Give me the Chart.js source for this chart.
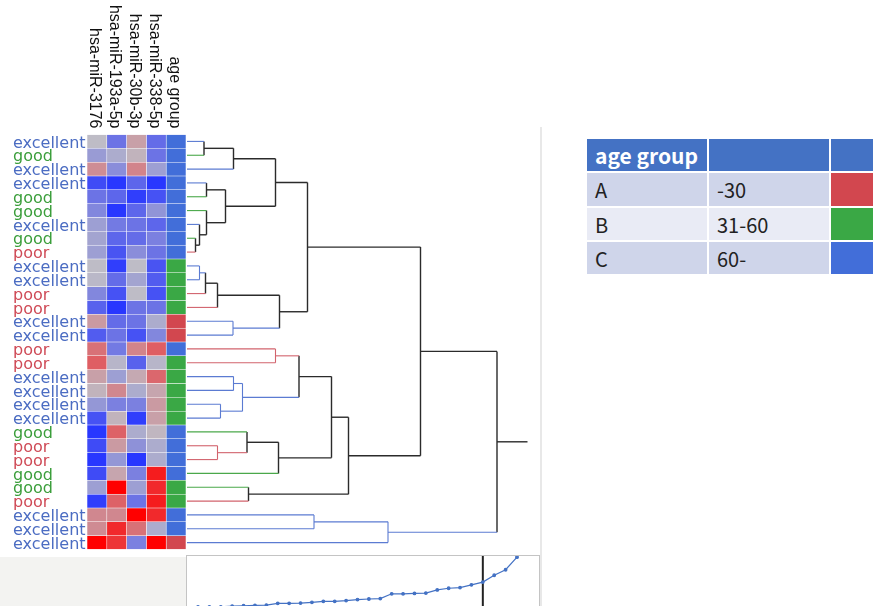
<!DOCTYPE html>
<html><head><meta charset="utf-8">
<script src="https://cdn.jsdelivr.net/npm/chart.js@4.4.0/dist/chart.umd.min.js"></script>
<style>
html,body{margin:0;padding:0;width:873px;height:606px;overflow:hidden;background:#fff;position:relative}
canvas{position:absolute;display:block}
#grayL{position:absolute;left:0;top:557px;width:187px;height:60px;background:#f3f3f1}
#panelLine{position:absolute;left:540px;top:127px;width:1.5px;height:490px;background:#e8e8e8}
#box{position:absolute;left:186px;top:555px;width:352px;height:80px;border:1.5px solid #c4c4c4;background:#fff;overflow:hidden}
#legend{position:absolute;left:585px;top:137px;width:408px;table-layout:fixed;border-collapse:separate;border-spacing:2px;font-family:"Noto Sans CJK JP","Noto Sans",sans-serif;font-size:20px;color:#222}
#legend td,#legend th{padding:0 0 0 8px;box-sizing:border-box;text-align:left;white-space:nowrap;overflow:hidden}
#legend th{background:#4472c4;color:#fff;font-weight:bold;font-size:21px;height:32px}
</style></head>
<body>
<div id="grayL"></div>
<div id="panelLine"></div>
<canvas id="heat" width="188" height="570" style="left:0;top:0"></canvas>
<canvas id="dendro" width="352" height="551" style="left:187px;top:0"></canvas>
<div id="box"><canvas id="cut" width="352" height="52" style="left:0;top:0"></canvas></div>
<table id="legend"><colgroup><col style="width:120px"><col style="width:120px"><col style="width:160px"></colgroup><tbody id="legendBody"></tbody></table>
<script>
// ---- data ----
const rowLabels = ["excellent","good","excellent","excellent","good","good","excellent","good","poor",
  "excellent","excellent","poor","poor","excellent","excellent","poor","poor","excellent","excellent",
  "excellent","excellent","good","poor","poor","good","good","poor","excellent","excellent","excellent"];
const columnNames = ["hsa-miR-3176","hsa-miR-193a-5p","hsa-miR-30b-3p","hsa-miR-338-5p","age group"];
const miR3176  = [0.0,-0.25,0.25,-0.85,-0.55,-0.4,-0.22,-0.18,-0.22,0.0,-0.03,-0.4,-0.68,0.18,-0.72,
                  0.4,0.5,0.15,0.05,-0.28,-0.8,-1.0,-0.85,-1.0,-0.85,-0.22,-0.95,0.28,0.26,1.0];
const miR193a  = [-0.55,-0.12,-0.35,-1.0,-0.65,-1.0,-0.5,-0.65,-0.78,-0.95,-0.6,-0.8,-1.0,-0.6,-0.55,
                  -0.5,-0.05,-0.22,0.28,-0.45,0.05,0.48,0.18,-0.28,0.12,1.0,0.48,0.28,0.78,0.72];
const miR30b   = [0.15,0.05,0.3,-0.65,-0.95,-0.65,-0.55,-0.6,-0.35,0.0,-0.18,0.0,-0.55,-0.55,-0.8,
                  0.3,-0.68,0.1,-0.12,-0.45,-0.95,-0.12,-0.32,-1.0,-0.45,-0.22,-0.55,1.0,0.4,-0.45];
const miR338   = [-0.6,-0.55,-0.22,-1.0,-0.8,-0.3,-0.65,-0.45,-0.55,-0.78,-0.72,-0.8,-0.55,-0.12,-0.4,
                  0.5,-0.05,0.45,0.12,0.18,0.15,0.03,-0.12,-0.12,0.85,0.78,0.85,0.78,-0.12,1.0];
const ageGroup = ["C","C","C","C","C","C","C","C","C","B","B","B","B","A","A",
                  "C","B","B","B","B","B","C","C","C","C","B","B","C","C","A"];
const ageLabels = ["A","B","C"];
const ageRanges = ["-30","31-60","60-"];
// dendrogram merges: node id = 30 + index
const mergeLeft   = [7, 6, 5, 3, 33, 0, 35, 36, 9, 38, 39, 13, 40, 37, 15, 17, 19, 45, 44, 22, 21, 50, 48, 25, 52, 43, 27, 56, 55];
const mergeRight  = [8, 30, 31, 4, 32, 1, 2, 34, 10, 11, 12, 14, 41, 42, 16, 18, 20, 46, 47, 23, 49, 24, 51, 26, 53, 54, 28, 29, 57];
const mergeHeight = [0.17,0.25,0.39,0.39,0.77,0.34,0.93,1.77,0.25,0.37,0.61,0.92,1.85,2.41,1.77,0.93,0.67,1.11,2.24,0.61,1.20,1.83,2.89,1.23,3.23,4.67,2.54,4.02,6.20];
const rootStubEnd = 6.81;
// sorted merge heights (small plot below)
const sortedHeights = [0.15,0.15,0.15,0.23,0.28,0.32,0.35,0.57,0.57,0.61,0.70,0.82,0.82,0.91,1.04,1.11,1.16,1.75,1.75,1.80,1.84,2.22,2.43,2.51,2.85,3.19,4.03,4.71,6.25];
const cutIndex = 25;

// ---- styles ----
const classColor = {excellent:"#4b6cc2", good:"#3b9e3b", poor:"#cf4b57"};
const linkColor  = {excellent:"#5b7bd2", good:"#4aa84a", poor:"#d2636d"};
const ageColor   = {A:"#d2474f", B:"#3aa845", C:"#426ed9"};
function heatColor(v){
  const g=[190,188,198], e = v<0 ? [40,55,255] : [255,0,0], t=Math.min(1,Math.abs(v));
  return "rgb("+g.map((c,i)=>Math.round(c+(e[i]-c)*t)).join(",")+")";
}
Chart.defaults.animation = false;
Chart.defaults.layout.autoPadding = false;

// ---- heatmap ----
const geneSeries = [miR3176, miR193a, miR30b, miR338];
const heatDatasets = geneSeries.map((vals,c)=>({
  data: vals.map(()=>[c,c+1]),
  backgroundColor: vals.map(heatColor),
  borderColor: "rgba(255,255,255,0.22)", borderWidth: 0.6, borderSkipped: false,
  categoryPercentage: 1, barPercentage: 1
}));
heatDatasets.push({
  data: ageGroup.map(()=>[4,5]),
  backgroundColor: ageGroup.map(a=>ageColor[a]),
  borderColor: "rgba(255,255,255,0.22)", borderWidth: 0.6, borderSkipped: false,
  categoryPercentage: 1, barPercentage: 1
});
const headerPlugin = {
  id: "headers",
  afterDraw(chart){
    const ctx = chart.ctx, xs = chart.scales.x, top = chart.chartArea.top;
    ctx.save();
    ctx.font = '16px "Liberation Sans", Arial, sans-serif';
    ctx.fillStyle = "#111"; ctx.textAlign = "right"; ctx.textBaseline = "middle";
    columnNames.forEach((n,i)=>{
      ctx.save(); ctx.translate(xs.getPixelForValue(i+0.5)-2, top-6); ctx.rotate(Math.PI/2);
      ctx.fillText(n,0,0); ctx.restore();
    });
    ctx.restore();
  }
};
new Chart(document.getElementById("heat"), {
  type: "bar",
  data: { labels: rowLabels, datasets: heatDatasets },
  options: {
    responsive: false, indexAxis: "y",
    layout: { padding: { left: 13, top: 134.5, right: 2, bottom: 20.5 } },
    plugins: { legend: { display: false }, tooltip: { enabled: false } },
    scales: {
      x: { type: "linear", min: 0, max: 5, display: false, stacked: false },
      y: { stacked: true, grid: { display: false }, border: { display: false },
           afterFit(s){ s.width = 74; },
           ticks: { autoSkip: false, crossAlign: "far", padding: 0, labelOffset: 2,
                    font: { family: "DejaVu Sans", size: 16 },
                    color: (c)=> classColor[rowLabels[c.index]] } }
    }
  },
  plugins: [headerPlugin]
});

// ---- dendrogram ----
const nodeY = rowLabels.map((_,i)=>i), nodeH = rowLabels.map(()=>0), nodeCls = rowLabels.slice();
const segs = [];
mergeLeft.forEach((l,k)=>{
  const r = mergeRight[k], h = mergeHeight[k], id = 30+k;
  nodeY[id] = (nodeY[l]+nodeY[r])/2; nodeH[id] = h;
  nodeCls[id] = (nodeCls[l] && nodeCls[l]===nodeCls[r]) ? nodeCls[l] : null;
  [l,r].forEach(ch=>segs.push({pts:[{x:nodeH[ch],y:nodeY[ch]},{x:h,y:nodeY[ch]}], cls:nodeCls[ch]}));
  segs.push({pts:[{x:h,y:nodeY[l]},{x:h,y:nodeY[r]}], cls:nodeCls[id]});
});
const rootId = 30 + mergeLeft.length - 1;
segs.push({pts:[{x:nodeH[rootId],y:nodeY[rootId]},{x:rootStubEnd,y:nodeY[rootId]}], cls:null});
new Chart(document.getElementById("dendro"), {
  type: "scatter",
  data: { datasets: segs.map(s=>({
    data: s.pts, showLine: true, pointRadius: 0, pointHoverRadius: 0, clip: false,
    borderColor: s.cls ? linkColor[s.cls] : "#2b2b2b", borderWidth: s.cls ? 1.1 : 1.4
  })) },
  options: {
    responsive: false,
    layout: { padding: { left: 0, top: 134.5, right: 2, bottom: 1.5 } },
    plugins: { legend: { display: false }, tooltip: { enabled: false } },
    scales: {
      x: { type: "linear", min: 0, max: 7, display: false },
      y: { type: "linear", min: -0.5, max: 29.5, reverse: true, display: false }
    }
  }
});

// ---- sorted heights plot ----
new Chart(document.getElementById("cut"), {
  type: "scatter",
  data: { datasets: [
    { data: sortedHeights.map((v,i)=>({x:i,y:v})), showLine: true, clip: false,
      borderColor: "#4472c4", backgroundColor: "#4472c4", borderWidth: 1.2, pointRadius: 1.3, pointHoverRadius: 1.3 },
    { data: [{x:cutIndex,y:0},{x:cutIndex,y:8}], showLine: true, pointRadius: 0, pointHoverRadius: 0, clip: false,
      borderColor: "#222", borderWidth: 2 }
  ] },
  options: {
    responsive: false,
    layout: { padding: { left: 11, top: 0, right: 22, bottom: 0 } },
    plugins: { legend: { display: false }, tooltip: { enabled: false } },
    scales: {
      x: { type: "linear", min: 0, max: 28, display: false },
      y: { type: "linear", min: 0, max: 6.4, display: false }
    }
  }
});

// ---- legend table ----
const tbody = document.getElementById("legendBody");
let html = '<tr><th>age group</th><th></th><th></th></tr>';
ageLabels.forEach((a,i)=>{
  const bg = i%2===0 ? "#cfd5ea" : "#e9ebf5", h = i===0 ? 33 : 32;
  html += `<tr style="height:${h}px"><td style="background:${bg}">${a}</td><td style="background:${bg}">${ageRanges[i]}</td><td style="background:${ageColor[a]}"></td></tr>`;
});
tbody.innerHTML = html;
</script>
</body></html>
